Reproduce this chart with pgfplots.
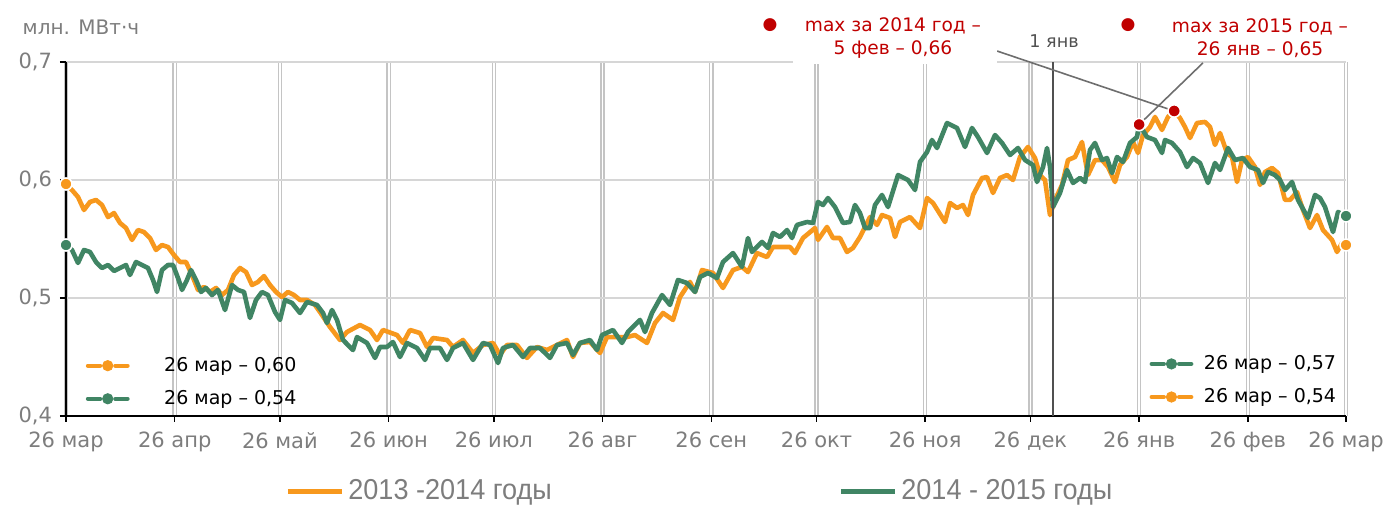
\documentclass[border=0pt]{standalone}
\usepackage{fontspec}
\setmainfont{DejaVu Sans}
\newfontfamily\legfont[FakeStretch=0.94]{Liberation Sans}
\usepackage{pgfplots}
\usepackage{pgfplotstable}
\pgfplotsset{compat=1.18}
\definecolor{cOr}{RGB}{247,152,29}
\definecolor{cGr}{RGB}{64,133,100}
\definecolor{cRed}{RGB}{192,0,0}
\definecolor{cTxt}{RGB}{125,125,125}
\definecolor{cGrid}{RGB}{214,214,214}
\definecolor{cVGrid}{RGB}{196,196,196}
\definecolor{cDark}{RGB}{80,80,80}
\definecolor{cConn}{RGB}{110,110,110}

\pgfplotstableread{
d v
0 0.5966
1.71 0.5915
3.42 0.5856
5.13 0.5746
6.84 0.5814
8.55 0.5831
10.27 0.5788
11.98 0.5686
13.69 0.5720
15.40 0.5636
17.11 0.5593
18.82 0.5492
20.53 0.5576
22.24 0.5559
23.95 0.5508
25.66 0.5407
27.37 0.5449
29.09 0.5432
30.80 0.5364
32.51 0.5305
34.22 0.5305
35.93 0.5195
37.64 0.5068
39.35 0.5093
41.06 0.5051
42.77 0.5085
44.48 0.5025
46.19 0.5068
47.91 0.5195
49.62 0.5254
51.33 0.5220
53.04 0.5110
54.75 0.5136
56.46 0.5186
58.17 0.5110
59.88 0.5051
61.59 0.5008
63.30 0.5051
65.01 0.5025
66.73 0.4983
68.72 0.4983
71.00 0.4941
73.00 0.4856
75.28 0.4754
78.13 0.4644
80.13 0.4712
83.83 0.4771
86.69 0.4729
88.68 0.4644
90.39 0.4729
94.38 0.4686
96.10 0.4619
98.09 0.4729
100.94 0.4703
102.94 0.4585
104.65 0.4661
108.64 0.4644
110.35 0.4585
113.20 0.4644
116.06 0.4534
118.91 0.4602
121.76 0.4619
123.76 0.4517
125.75 0.4602
128.60 0.4602
131.45 0.4492
134.31 0.4585
137.16 0.4559
140.01 0.4602
142.86 0.4644
144.57 0.4500
146.57 0.4619
149.42 0.4627
152.27 0.4534
154.27 0.4669
157.12 0.4669
159.97 0.4669
162.25 0.4686
165.67 0.4619
167.95 0.4788
170.24 0.4873
173.09 0.4814
175.08 0.5008
177.93 0.5136
179.36 0.5051
181.36 0.5237
184.49 0.5212
187.34 0.5085
190.20 0.5237
192.76 0.5263
194.47 0.5220
197.04 0.5381
199.89 0.5347
201.60 0.5432
206.45 0.5432
207.87 0.5381
210.15 0.5508
213.58 0.5593
214.43 0.5492
217.00 0.5602
218.71 0.5508
220.71 0.5508
222.70 0.5390
224.41 0.5424
226.41 0.5517
229.26 0.5686
231.26 0.5619
232.68 0.5703
234.97 0.5678
236.39 0.5517
237.82 0.5644
240.67 0.5686
243.52 0.5593
245.52 0.5847
247.23 0.5805
250.65 0.5644
252.08 0.5805
254.07 0.5763
255.78 0.5788
257.21 0.5703
258.64 0.5873
261.20 0.6017
262.63 0.6025
264.34 0.5890
266.33 0.6017
268.33 0.6042
270.04 0.6000
272.03 0.6195
274.31 0.6280
276.31 0.6186
277.74 0.6042
279.16 0.6000
280.59 0.5703
282.01 0.5831
284.01 0.5958
285.72 0.6169
287.72 0.6195
289.71 0.6322
291.42 0.6042
293.42 0.6169
295.42 0.6169
297.13 0.6110
299.12 0.5983
300.55 0.6127
302.55 0.6195
304.26 0.6322
305.68 0.6229
307.11 0.6381
309.10 0.6449
310.53 0.6534
312.52 0.6424
314.23 0.6534
316.00 0.6585
317.66 0.6525
319.08 0.6449
320.51 0.6356
322.51 0.6483
324.79 0.6492
326.22 0.6449
327.64 0.6297
329.07 0.6398
331.07 0.6229
332.49 0.6195
333.92 0.5983
335.34 0.6169
337.05 0.6195
339.05 0.6110
340.48 0.5958
341.90 0.6068
343.90 0.6102
345.61 0.6059
347.60 0.5831
349.03 0.5831
351.03 0.5898
352.74 0.5746
354.73 0.5593
356.73 0.5703
358.44 0.5576
361.01 0.5492
362.43 0.5390
363.86 0.5466
365 0.5449
}\orangedata

\pgfplotstableread{
d v
0 0.5449
1.71 0.5407
3.42 0.5297
5.13 0.5407
6.84 0.5390
8.55 0.5305
10.27 0.5254
11.98 0.5280
13.69 0.5229
15.40 0.5254
17.11 0.5280
18.25 0.5195
19.96 0.5305
21.67 0.5280
23.38 0.5254
24.81 0.5153
25.95 0.5051
27.37 0.5237
29.09 0.5280
30.51 0.5280
31.94 0.5169
33.08 0.5068
34.50 0.5153
35.64 0.5237
37.07 0.5153
38.50 0.5051
39.92 0.5085
41.63 0.5025
43.34 0.5068
45.34 0.4898
47.33 0.5110
49.05 0.5068
50.76 0.5051
52.47 0.4831
54.18 0.4983
55.89 0.5051
57.60 0.5025
59.60 0.4881
61.02 0.4814
62.45 0.4983
64.44 0.4958
66.73 0.4873
68.72 0.4966
71.57 0.4941
73.29 0.4873
74.43 0.4788
75.85 0.4898
77.28 0.4814
78.99 0.4644
81.84 0.4559
82.98 0.4669
85.83 0.4619
88.11 0.4492
89.54 0.4585
91.53 0.4585
93.24 0.4627
95.24 0.4500
97.24 0.4619
100.09 0.4576
102.37 0.4475
103.79 0.4576
106.65 0.4576
108.64 0.4475
110.35 0.4576
113.20 0.4619
116.06 0.4475
118.91 0.4619
120.91 0.4602
123.19 0.4449
124.61 0.4576
127.47 0.4602
130.32 0.4500
132.31 0.4576
135.16 0.4576
138.01 0.4492
140.01 0.4602
142.86 0.4619
144.57 0.4517
146.57 0.4619
149.42 0.4644
151.42 0.4559
152.84 0.4686
155.98 0.4729
158.54 0.4619
160.25 0.4712
163.68 0.4814
165.10 0.4712
167.10 0.4873
169.95 0.5025
172.23 0.4941
174.51 0.5153
177.08 0.5127
179.36 0.5051
180.79 0.5178
183.07 0.5212
185.63 0.5169
187.34 0.5305
190.20 0.5381
192.76 0.5263
194.47 0.5508
195.62 0.5390
198.47 0.5475
200.18 0.5424
201.60 0.5551
203.60 0.5517
205.59 0.5576
207.02 0.5508
208.45 0.5619
211.30 0.5644
213.01 0.5636
214.43 0.5814
215.86 0.5788
217.28 0.5847
219.28 0.5771
221.56 0.5636
223.56 0.5644
224.98 0.5788
226.41 0.5720
227.84 0.5593
229.26 0.5593
230.69 0.5788
232.68 0.5873
234.40 0.5771
237.25 0.6042
240.10 0.6000
242.10 0.5915
243.52 0.6153
245.52 0.6237
246.94 0.6339
248.37 0.6271
251.22 0.6483
254.07 0.6441
256.35 0.6280
258.35 0.6441
260.06 0.6364
262.63 0.6229
264.91 0.6381
266.91 0.6314
269.19 0.6212
271.47 0.6271
273.47 0.6169
275.74 0.6127
276.88 0.5983
278.60 0.6110
279.74 0.6271
280.59 0.6110
281.44 0.5771
283.44 0.5890
285.44 0.6085
287.15 0.5975
289.14 0.6017
290.57 0.5983
292.00 0.6254
293.42 0.6314
295.42 0.6169
296.84 0.6186
298.27 0.6059
299.70 0.6195
301.41 0.6153
303.40 0.6314
305.40 0.6364
306.00 0.6470
308.26 0.6364
310.53 0.6339
312.52 0.6229
313.38 0.6339
315.37 0.6314
317.66 0.6237
319.65 0.6110
321.37 0.6186
323.36 0.6144
325.65 0.5975
327.64 0.6144
329.07 0.6085
331.35 0.6271
333.35 0.6169
335.63 0.6186
337.62 0.6110
339.90 0.6085
341.33 0.5975
342.76 0.6068
344.75 0.6042
346.18 0.6000
347.60 0.5915
349.60 0.5983
351.31 0.5831
354.16 0.5678
356.16 0.5873
357.59 0.5847
359.01 0.5771
361.29 0.5559
362.72 0.5729
365 0.5695
}\greendata

\begin{document}
\begin{tikzpicture}[x=0.5pt,y=0.5pt]
\useasboundingbox (0,0) rectangle (1386,507);
\begin{axis}[
  at={(33pt,45.5pt)}, anchor=south west,
  width=640pt, height=177pt, scale only axis,
  xmin=0, xmax=365, ymin=0.4, ymax=0.7,
  axis lines=left,
  axis line style={-, black, line width=0.75pt},
  xtick={0,31,61,92,122,153,184,214,245,275,306,337,365},
  xticklabels={26 мар,26 апр,26 май,26 июн,26 июл,26 авг,26 сен,26 окт,26 ноя,26 дек,26 янв,26 фев,26 мар},
  ytick={0.4,0.5,0.6,0.7},
  yticklabels={{0,4},{0,5},{0,6},{0,7}},
  tick style={black, line width=0.75pt},
  major tick length=3pt,
  tick align=outside,
  xmajorgrids, ymajorgrids,
  major x grid style={draw=cVGrid, line width=0.7pt, double=white, double distance=0.9pt},
  major y grid style={draw=cGrid, line width=1pt},
  ticklabel style={font=\fontsize{10.5}{12}\selectfont, text=cTxt},
  xticklabel style={yshift=-1.5pt},
  yticklabel style={xshift=-0.5pt},
  clip=false,
  legend style={at={(0.1664,-0.212)}, anchor=west, draw=none, fill=none,
    legend columns=2, font=\legfont\fontsize{14.4}{16}\selectfont, text=cTxt,
    /tikz/every even column/.append style={column sep=0pt}},
  legend image code/.code={\draw[#1, line width=2.5pt] (0,0) -- (27pt,0);},
]
\addplot[cOr, line width=2.3pt, line join=round] table[x=d, y=v] {\orangedata};
\addlegendentry{\makebox[243pt][l]{2013 -2014 годы}}
\addplot[cGr, line width=2.3pt, line join=round] table[x=d, y=v] {\greendata};
\addlegendentry{2014 - 2015 годы}
\draw[cDark, line width=1.3pt] (axis cs:281.4,0.4) -- (axis cs:281.4,0.7);
\draw[cConn, line width=0.8pt] (axis cs:265.5,0.7093) -- (axis cs:316,0.6585);
\draw[cConn, line width=0.8pt] (axis cs:324.2,0.6992) -- (axis cs:306,0.647);
\addplot[forget plot, only marks, mark=*, mark size=3pt, mark options={fill=cOr, draw=white, line width=0.8pt}] coordinates {(0,0.5966) (365,0.5449)};
\addplot[forget plot, only marks, mark=*, mark size=3pt, mark options={fill=cGr, draw=white, line width=0.8pt}] coordinates {(0,0.5449) (365,0.5695)};
\addplot[forget plot, only marks, mark=*, mark size=3.1pt, mark options={fill=cRed, draw=white, line width=0.8pt}] coordinates {(316,0.6585) (306,0.647)};
\end{axis}
% left inner legend
\begin{axis}[
  at={(33pt,45.5pt)}, anchor=south west,
  width=640pt, height=177pt, scale only axis, hide axis,
  xmin=0, xmax=1, ymin=0, ymax=1,
  legend style={at={(0.0105,0.19)}, anchor=north west, draw=none, fill=none,
    font=\fontsize{9.5}{11}\selectfont, row sep=4pt},
  legend image code/.code={
    \draw[#1, line width=2pt, line cap=round] (0.8pt,0) -- (7pt,0);
    \draw[#1, line width=2pt, line cap=round] (14.5pt,0) -- (20.7pt,0);
    \fill[#1] (10.75pt,0) circle (2.6pt);
    \path[draw=none, fill=none] (0,0) -- (37pt,0);},
]
\addlegendimage{cOr}
\addlegendentry{26 мар – 0,60}
\addlegendimage{cGr}
\addlegendentry{26 мар – 0,54}
\end{axis}
% right inner legend
\begin{axis}[
  at={(33pt,45.5pt)}, anchor=south west,
  width=640pt, height=177pt, scale only axis, hide axis,
  xmin=0, xmax=1, ymin=0, ymax=1,
  legend style={at={(0.8415,0.195)}, anchor=north west, draw=none, fill=none,
    font=\fontsize{9.5}{11}\selectfont, row sep=4pt},
  legend image code/.code={
    \draw[#1, line width=2pt, line cap=round] (0.8pt,0) -- (7pt,0);
    \draw[#1, line width=2pt, line cap=round] (14.5pt,0) -- (20.7pt,0);
    \fill[#1] (10.75pt,0) circle (2.6pt);
    \path[draw=none, fill=none] (0,0) -- (25pt,0);},
]
\addlegendimage{cGr}
\addlegendentry{26 мар – 0,57}
\addlegendimage{cOr}
\addlegendentry{26 мар – 0,54}
\end{axis}
% annotations
\fill[white] (793,443) rectangle (997,507);
\node[text=cTxt, font=\fontsize{10}{12}\selectfont] at (81,480) {млн. МВт·ч};
\node[text=cDark, font=\fontsize{8.8}{10}\selectfont] at (1054,466) {1 янв};
\node[text=cRed, align=center, font=\fontsize{9.3}{11.5}\selectfont] at (893,469) {max за 2014 год –\\5 фев – 0,66};
\node[text=cRed, align=center, font=\fontsize{9.3}{11.5}\selectfont] at (1260,469) {max за 2015 год –\\26 янв – 0,65};
\node[text=cRed, font=\fontsize{8.5}{10}\selectfont, inner sep=0pt] at (770,482) {●};
\node[text=cRed, font=\fontsize{8.5}{10}\selectfont, inner sep=0pt] at (1128,482) {●};
\end{tikzpicture}
\end{document}
